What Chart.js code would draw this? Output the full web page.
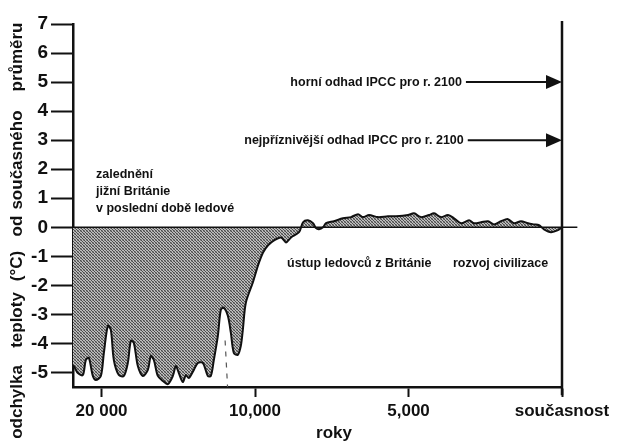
<!DOCTYPE html>
<html>
<head>
<meta charset="utf-8">
<script src="https://cdn.jsdelivr.net/npm/chart.js@4"></script>
<style>
html,body{margin:0;padding:0;background:#fff;}
#wrap{width:630px;height:445px;position:relative;}
</style>
</head>
<body>
<div id="wrap"><canvas id="c" width="630" height="445"></canvas></div>
<script>
// ---- data (years before present, temperature anomaly °C) ----
const years = [21860, 21740, 21544, 21218, 21023, 20827, 20567, 20371, 20046, 19850,
  19589, 19394, 19199, 18873, 18547, 18287, 18091, 17896, 17635, 17309,
  16984, 16788, 16593, 16332, 16006, 15681, 15355, 15160, 14964, 14704,
  14508, 14313, 13987, 13726, 13400, 13075, 12879, 12684, 12423, 12228,
  12032, 11772, 11576, 11381, 11120, 10925, 10794, 10599, 10143, 9902,
  9739, 9576, 9381, 9153, 8990, 8827, 8567, 8437, 8274, 8111,
  8014, 7916, 7785, 7688, 7427, 7134, 6873, 6645, 6482, 6286,
  5993, 5668, 5407, 5016, 4821, 4593, 4332, 4169, 3941, 3713,
  3518, 3290, 3029, 2866, 2638, 2410, 2215, 1987, 1759, 1563,
  1335, 1107, 912, 749, 586, 358, 130, 0];
const temps = [-4.75, -4.84, -5.02, -5.09, -4.57, -4.50, -5.12, -5.26, -5.12, -4.33,
  -3.39, -3.53, -4.57, -5.09, -5.12, -4.67, -3.91, -3.98, -4.78, -5.12,
  -4.91, -4.43, -4.57, -5.12, -5.29, -5.40, -5.12, -4.78, -5.02, -5.33,
  -5.09, -5.19, -4.91, -4.67, -4.67, -5.12, -5.12, -4.57, -3.74, -2.84,
  -2.77, -3.05, -3.63, -4.33, -4.39, -4.08, -3.53, -2.60, -1.90, -1.31,
  -0.87, -0.62, -0.45, -0.35, -0.52, -0.35, -0.17, 0.17, 0.24, 0.14,
  -0.03, -0.07, 0, 0.14, 0.21, 0.31, 0.35, 0.45, 0.35, 0.42,
  0.35, 0.38, 0.38, 0.42, 0.48, 0.35, 0.42, 0.48, 0.35, 0.42,
  0.31, 0.14, 0.24, 0.14, 0.17, 0.21, 0.10, 0.21, 0.28, 0.14,
  0.21, 0.14, 0.10, 0.07, -0.07, -0.17, -0.10, 0];
const dashedYears = [11950, 11790];
const dashedTemps = [-3.9, -5.5];
const tickYears = [20000, 10000, 5000, 0];
const tickLabels = ['20 000', '10,000', '5,000', 'současnost'];
const yTicks = [-5, -4, -3, -2, -1, 0, 1, 2, 3, 4, 5, 6, 7];
const arrowValues = [5, 3];
const arrowStartYears = [3130, 3070];
const arrowLabels = ['horní odhad IPCC pro r. 2100', 'nejpříznivější odhad IPCC pro r. 2100'];
const glacialLabel = ['zalednění', 'jižní Británie', 'v poslední době ledové'];
const retreatLabel = 'ústup ledovců z Británie';
const civLabel = 'rozvoj civilizace';
const xTitle = 'roky';
const yTitleWords = ['odchylka', 'teploty', '(°C)', 'od', 'současného', 'průměru'];

// the original axis is piecewise: 20000→10000 and 10000→5000 take equal length
function toPos(y){ return y > 10000 ? (20000 - y) / 10000 : 1 + (10000 - y) / 5000; }

const FONT = '"Liberation Sans", Arial, Helvetica, sans-serif';
const INK = '#111';

function makePattern(){
  const c = document.createElement('canvas'); c.width = 3; c.height = 3;
  const g = c.getContext('2d');
  g.fillStyle = '#bdbdbd'; g.fillRect(0,0,3,3);
  g.fillStyle = '#4a4a4a';
  g.fillRect(0,0,1,1); g.fillRect(1,1,1,1); g.fillRect(2,2,1,1);
  g.fillStyle = '#8a8a8a';
  g.fillRect(2,0,1,1); g.fillRect(0,2,1,1);
  return g.createPattern(c, 'repeat');
}

const annot = {
  id: 'annot',
  afterDatasetsDraw(chart){
    const ctx = chart.ctx, xs = chart.scales.x, ys = chart.scales.y;
    ctx.save();
    ctx.fillStyle = INK; ctx.strokeStyle = INK;
    ctx.textBaseline = 'middle';
    ctx.font = 'bold 12.5px ' + FONT;
    const xEnd = xs.getPixelForValue(toPos(0));
    arrowValues.forEach((v, i) => {
      const y = ys.getPixelForValue(v);
      const xs0 = xs.getPixelForValue(toPos(arrowStartYears[i]));
      ctx.lineWidth = 2;
      ctx.beginPath(); ctx.moveTo(xs0, y); ctx.lineTo(xEnd - 10, y); ctx.stroke();
      ctx.beginPath(); ctx.moveTo(xEnd, y); ctx.lineTo(xEnd - 16, y - 7); ctx.lineTo(xEnd - 16, y + 7); ctx.closePath(); ctx.fill();
      ctx.textAlign = 'right';
      ctx.fillText(arrowLabels[i], xs0 - 4, y);
    });
    ctx.textAlign = 'left';
    glacialLabel.forEach((t, i) => ctx.fillText(t, 96, 175 + i * 17));
    ctx.fillText(retreatLabel, 287, 264);
    ctx.fillText(civLabel, 453, 264);
    ctx.font = 'bold 17px ' + FONT;
    ctx.textAlign = 'center';
    ctx.fillText(xTitle, 334, 433);
    // rotated y title
    const centers = [402, 320, 266, 226, 160, 57];
    ctx.save();
    ctx.translate(17, 0);
    ctx.rotate(-Math.PI / 2);
    yTitleWords.forEach((w, i) => ctx.fillText(w, -centers[i], 0));
    ctx.restore();
    ctx.restore();
  }
};

const ctx = document.getElementById('c').getContext('2d');
new Chart(ctx, {
  type: 'line',
  data: {
    datasets: [
      {
        data: years.map((y, i) => ({x: toPos(y), y: temps[i]})),
        borderColor: INK, borderWidth: 2, pointRadius: 0, tension: 0.3,
        fill: {value: 0}, backgroundColor: makePattern(), order: 2
      },
      {
        data: [{x: toPos(21860), y: 0}, {x: 3.1, y: 0}],
        borderColor: INK, borderWidth: 1.6, pointRadius: 0, fill: false, clip: false, order: 1
      },
      {
        data: [{x: 3, y: 7.1}, {x: 3, y: -5.78}],
        borderColor: INK, borderWidth: 2.5, pointRadius: 0, fill: false, clip: false, order: 0
      },
      {
        data: dashedYears.map((y, i) => ({x: toPos(y), y: dashedTemps[i]})),
        borderColor: '#555', borderWidth: 1.2, borderDash: [5, 6], pointRadius: 0, fill: false, order: 1
      }
    ]
  },
  options: {
    responsive: false, animation: false,
    layout: {padding: {top: 24, right: 68, left: 0, bottom: 0}},
    plugins: {legend: {display: false}, tooltip: {enabled: false}},
    scales: {
      x: {
        type: 'linear', min: toPos(21860), max: 3,
        afterBuildTicks: s => { s.ticks = tickYears.map(y => ({value: toPos(y)})); },
        afterFit: s => { s.height = 58; },
        grid: {drawOnChartArea: false, tickLength: 10, tickWidth: 2, tickColor: INK},
        border: {color: INK, width: 2.5},
        ticks: {color: INK, font: {family: FONT, size: 17, weight: 'bold'}, padding: 4,
          maxRotation: 0, autoSkip: false,
          callback: (v, i) => tickLabels[i]}
      },
      y: {
        min: -5.5, max: 7,
        afterBuildTicks: s => { s.ticks = yTicks.map(v => ({value: v})); },
        afterFit: s => { s.width = 73; },
        grid: {drawOnChartArea: false, tickLength: 22, tickWidth: 2, tickColor: INK},
        border: {color: INK, width: 2.5},
        ticks: {color: INK, font: {family: FONT, size: 19, weight: 'bold'}, padding: 3,
          callback: v => String(v)}
      }
    }
  },
  plugins: [annot]
});
</script>
</body>
</html>
